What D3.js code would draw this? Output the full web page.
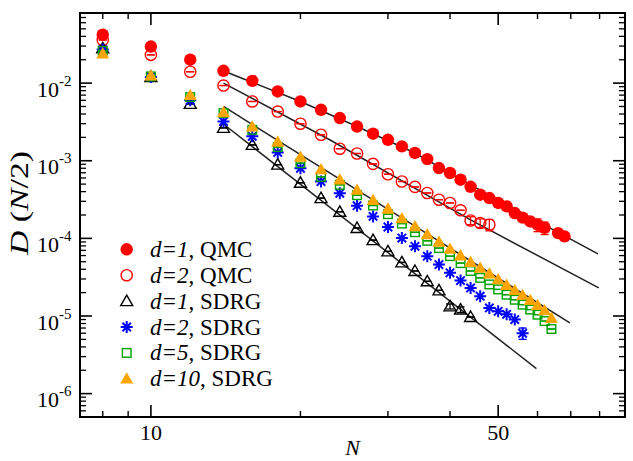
<!DOCTYPE html>
<html>
<head>
<meta charset="utf-8">
<script src="https://cdn.jsdelivr.net/npm/d3@7"></script>
<style>
  body { margin: 0; background: #fff; }
  svg { display: block; }
  text { font-family: "Liberation Serif", "Times New Roman", serif; fill: #000; }
</style>
</head>
<body>
<svg id="chart" width="633" height="461"></svg>
<script>
// data (N, D(N/2))
const nQmc1 = [8,10,12,14,16,18,20,22,24,26,28,30,32,34,36,38,40,42,44,46,48,50,52,54,56,58,60,62,66,68];
const dQmc1 = [0.042,0.0296,0.0200,0.0144,0.0107,0.0078,0.0058,0.00453,0.00355,0.00276,0.00223,0.00186,0.00153,0.00126,0.00105,0.000805,0.000695,0.00057,0.000462,0.000365,0.000331,0.000286,0.000258,0.000212,0.000185,0.000165,0.000150,0.000137,0.000117,0.000106];

const nQmc2 = [8,10,12,14,16,18,20,22,24,26,28,30,32,34,36,38,40,42,44,46,48];
const dQmc2 = [0.036,0.0231,0.0140,0.0093,0.0058,0.0043,0.0030,0.00216,0.00143,0.00124,0.00091,0.00067,0.00054,0.00046,0.000384,0.000315,0.000286,0.00023,0.00017,0.000158,0.00015];

const nSdrg1 = [8,10,12,14,16,18,20,22,24,26,28,30,32,34,36,38,40,42,44];
const dSdrg1 = [0.028,0.0120,0.0054,0.00265,0.0016,0.00089,0.00052,0.00033,0.00022,0.000136,0.000095,0.000068,0.000049,0.000038,0.000028,0.0000214,0.0000133,0.0000121,0.0000097];

const nSdrg2 = [8,10,12,14,16,18,20,22,24,26,28,30,32,34,36,38,40,42,44,46,48,50,52,54,56];
const dSdrg2 = [0.027,0.0120,0.0060,0.0032,0.00206,0.00128,0.00080,0.00054,0.00038,0.000264,0.000192,0.00014,0.000101,0.000079,0.000059,0.000046,0.000036,0.0000286,0.000023,0.000018,0.0000127,0.0000115,0.0000105,0.0000090,0.0000060];

const nSdrg5 = [8,10,12,14,16,18,20,22,24,26,28,30,32,34,36,38,40,42,44,46,48,50,52,54,56,58,60,62,64];
const dSdrg5 = [0.026,0.0122,0.0066,0.0041,0.0025,0.0015,0.00093,0.00062,0.00049,0.00036,0.000265,0.000205,0.000155,0.00012,0.000093,0.000075,0.000059,0.000048,0.000038,0.000031,0.0000255,0.000022,0.0000188,0.0000162,0.000014,0.0000121,0.0000104,0.0000086,0.0000068];

const nSdrg10 = [8,10,12,14,16,18,20,22,24,26,28,30,32,34,36,38,40,42,44,46,48,50,52,54,56,58,60,62,64];
const dSdrg10 = [0.024,0.0125,0.0070,0.0042,0.00275,0.00175,0.00112,0.00077,0.00057,0.00042,0.00031,0.00024,0.00018,0.000142,0.000112,0.00009,0.000073,0.00006,0.0000495,0.0000415,0.000035,0.0000295,0.000025,0.0000215,0.0000185,0.000016,0.0000138,0.0000118,0.0000094];

// error bars [N, err]
const errQmc1 = [[60, 2.8e-5], [62, 2.5e-5], [66, 1.2e-5], [68, 1.2e-5]];
const errQmc2 = [[44, 2.0e-5], [46, 2.0e-5], [48, 2.5e-5]];
const errSdrg1 = [[40, 1.0e-6], [42, 1.0e-6]];
const errSdrg2 = [[56, 1.0e-6]];

// fitted curves
const fit1N = [14.1, 20.0, 26.0, 34.0, 43.9, 57.9, 79.4];
const fit1D = [0.0141, 0.0058, 0.00276, 0.001257, 0.000491, 0.0001875, 0.000063];
const fit2N = [14.0, 22.9, 43.9, 79.7];
const fit2D = [0.0100, 0.001864, 0.000174, 0.000023];
const fit3N = [14.0, 69.7];
const fit3D = [0.0050, 0.00000815];
const fit4N = [14.2, 59.7];
const fit4D = [0.00276, 0.0000021];

const xMajor = [10, 50];
const xMinor = [8, 9, 20, 30, 40, 60, 70, 80];
const yMajorExp = [-2, -3, -4, -5, -6];

const legendLabels = [["d=1", ", QMC"], ["d=2", ", QMC"], ["d=1", ", SDRG"], ["d=2", ", SDRG"], ["d=5", ", SDRG"], ["d=10", ", SDRG"]];

const svg = d3.select("#chart");
const m = {left: 80, right: 625, top: 13, bottom: 417};

const x = d3.scaleLog().domain([7.2, 90]).range([m.left, m.right]);
const y = d3.scaleLog().domain([5e-7, 0.08]).range([m.bottom, m.top]);

const plot = svg.append("g");

// fit lines
const line = d3.line().x(d => x(d[0])).y(d => y(d[1]));
[[fit1N, fit1D], [fit2N, fit2D], [fit3N, fit3D], [fit4N, fit4D]].forEach(f => {
  plot.append("path")
    .attr("d", line(d3.zip(f[0], f[1])))
    .attr("fill", "none")
    .attr("stroke", "#222")
    .attr("stroke-width", 1.5);
});

// marker drawing
function drawMarker(g, type, color) {
  if (type === "fcircle") {
    g.append("circle").attr("r", 6.2).attr("fill", color);
  } else if (type === "ocircle") {
    g.append("circle").attr("r", 5.6).attr("fill", "none").attr("stroke", color).attr("stroke-width", 1.4);
  } else if (type === "otri") {
    g.append("path").attr("d", "M0,-6L6,4.5L-6,4.5Z").attr("fill", "none").attr("stroke", color).attr("stroke-width", 1.4);
  } else if (type === "ftri") {
    g.append("path").attr("d", "M0,-6.5L6.5,4.8L-6.5,4.8Z").attr("fill", color);
  } else if (type === "star") {
    g.append("path").attr("d", "M0,-6V6M-6,0H6M-4.2,-4.2L4.2,4.2M-4.2,4.2L4.2,-4.2")
      .attr("stroke", color).attr("stroke-width", 2).attr("fill", "none");
  } else if (type === "osq") {
    g.append("rect").attr("x", -4.3).attr("y", -4.3).attr("width", 8.6).attr("height", 8.6)
      .attr("fill", "none").attr("stroke", color).attr("stroke-width", 1.4);
  }
}

const series = [
  {n: nQmc1, d: dQmc1, type: "fcircle", color: "#ff0000", err: errQmc1, caps: false},
  {n: nQmc2, d: dQmc2, type: "ocircle", color: "#ff0000", err: errQmc2, caps: true},
  {n: nSdrg1, d: dSdrg1, type: "otri", color: "#000000", err: errSdrg1, caps: true},
  {n: nSdrg2, d: dSdrg2, type: "star", color: "#0000ff", err: errSdrg2, caps: false},
  {n: nSdrg5, d: dSdrg5, type: "osq", color: "#00a000", err: [], caps: true},
  {n: nSdrg10, d: dSdrg10, type: "ftri", color: "#ffa500", err: [], caps: false}
];

series.forEach(s => {
  const errMap = new Map(s.err);
  const pts = d3.zip(s.n, s.d);
  pts.forEach(p => {
    const cx = x(p[0]), cy = y(p[1]);
    const e = errMap.get(p[0]) || 0;
    if (e > 0 || s.caps) {
      const y1 = y(p[1] + e), y2 = y(Math.max(p[1] - e, 1e-9));
      const eg = plot.append("g").attr("stroke", s.color).attr("stroke-width", 1.3);
      eg.append("line").attr("x1", cx).attr("x2", cx).attr("y1", y1).attr("y2", y2);
      eg.append("line").attr("x1", cx - 4).attr("x2", cx + 4).attr("y1", y1).attr("y2", y1);
      eg.append("line").attr("x1", cx - 4).attr("x2", cx + 4).attr("y1", y2).attr("y2", y2);
    }
    const g = plot.append("g").attr("transform", `translate(${cx},${cy})`);
    drawMarker(g, s.type, s.color);
  });
});

// frame + ticks (inward, on all four sides)
const frame = svg.append("g").attr("stroke", "#000");
frame.append("rect")
  .attr("x", m.left).attr("y", m.top).attr("width", m.right - m.left).attr("height", m.bottom - m.top)
  .attr("fill", "none").attr("stroke-width", 2);

xMajor.forEach(v => {
  frame.append("line").attr("x1", x(v)).attr("x2", x(v)).attr("y1", m.bottom).attr("y2", m.bottom - 12).attr("stroke-width", 1.6);
  frame.append("line").attr("x1", x(v)).attr("x2", x(v)).attr("y1", m.top).attr("y2", m.top + 12).attr("stroke-width", 1.6);
});
xMinor.forEach(v => {
  frame.append("line").attr("x1", x(v)).attr("x2", x(v)).attr("y1", m.bottom).attr("y2", m.bottom - 6).attr("stroke-width", 1.4);
  frame.append("line").attr("x1", x(v)).attr("x2", x(v)).attr("y1", m.top).attr("y2", m.top + 6).attr("stroke-width", 1.4);
});

const yTicks = y.ticks();
yTicks.forEach(v => {
  const major = yMajorExp.some(e => Math.abs(v / Math.pow(10, e) - 1) < 1e-6);
  const len = major ? 12 : 6;
  frame.append("line").attr("x1", m.left).attr("x2", m.left + len).attr("y1", y(v)).attr("y2", y(v)).attr("stroke-width", major ? 1.6 : 1.3);
  frame.append("line").attr("x1", m.right).attr("x2", m.right - len).attr("y1", y(v)).attr("y2", y(v)).attr("stroke-width", major ? 1.6 : 1.3);
});

// tick labels
xMajor.forEach(v => {
  svg.append("text").attr("x", x(v)).attr("y", 440).attr("text-anchor", "middle")
    .attr("font-size", 22).text(v);
});
yMajorExp.forEach(e => {
  const t = svg.append("text").attr("x", 37).attr("y", y(Math.pow(10, e)) + 13.5).attr("font-size", 22);
  t.append("tspan").text("10");
  t.append("tspan").attr("dy", -11).attr("font-size", 15).text("-" + Math.abs(e));
});

// axis titles
svg.append("text").attr("x", (m.left + m.right) / 2).attr("y", 455).attr("text-anchor", "middle")
  .attr("font-size", 22).attr("font-style", "italic").text("N");

const yl = svg.append("text").attr("transform", "translate(28,203) rotate(-90)")
  .attr("text-anchor", "middle").attr("font-size", 25)
  .attr("textLength", 104).attr("lengthAdjust", "spacingAndGlyphs");
yl.append("tspan").attr("font-style", "italic").text("D");
yl.append("tspan").text(" (");
yl.append("tspan").attr("font-style", "italic").text("N");
yl.append("tspan").text("/2)");

// legend
const legend = svg.append("g");
const rowY = [249.3, 275.2, 301.1, 327.0, 352.9, 378.8];
series.forEach((s, i) => {
  const g = legend.append("g").attr("transform", `translate(126.7,${rowY[i]})`);
  drawMarker(g, s.type, s.color);
  const t = legend.append("text").attr("x", 150).attr("y", rowY[i] + 7.5).attr("font-size", 23);
  t.append("tspan").attr("font-style", "italic").text(legendLabels[i][0]);
  t.append("tspan").text(legendLabels[i][1]);
});
</script>
</body>
</html>
